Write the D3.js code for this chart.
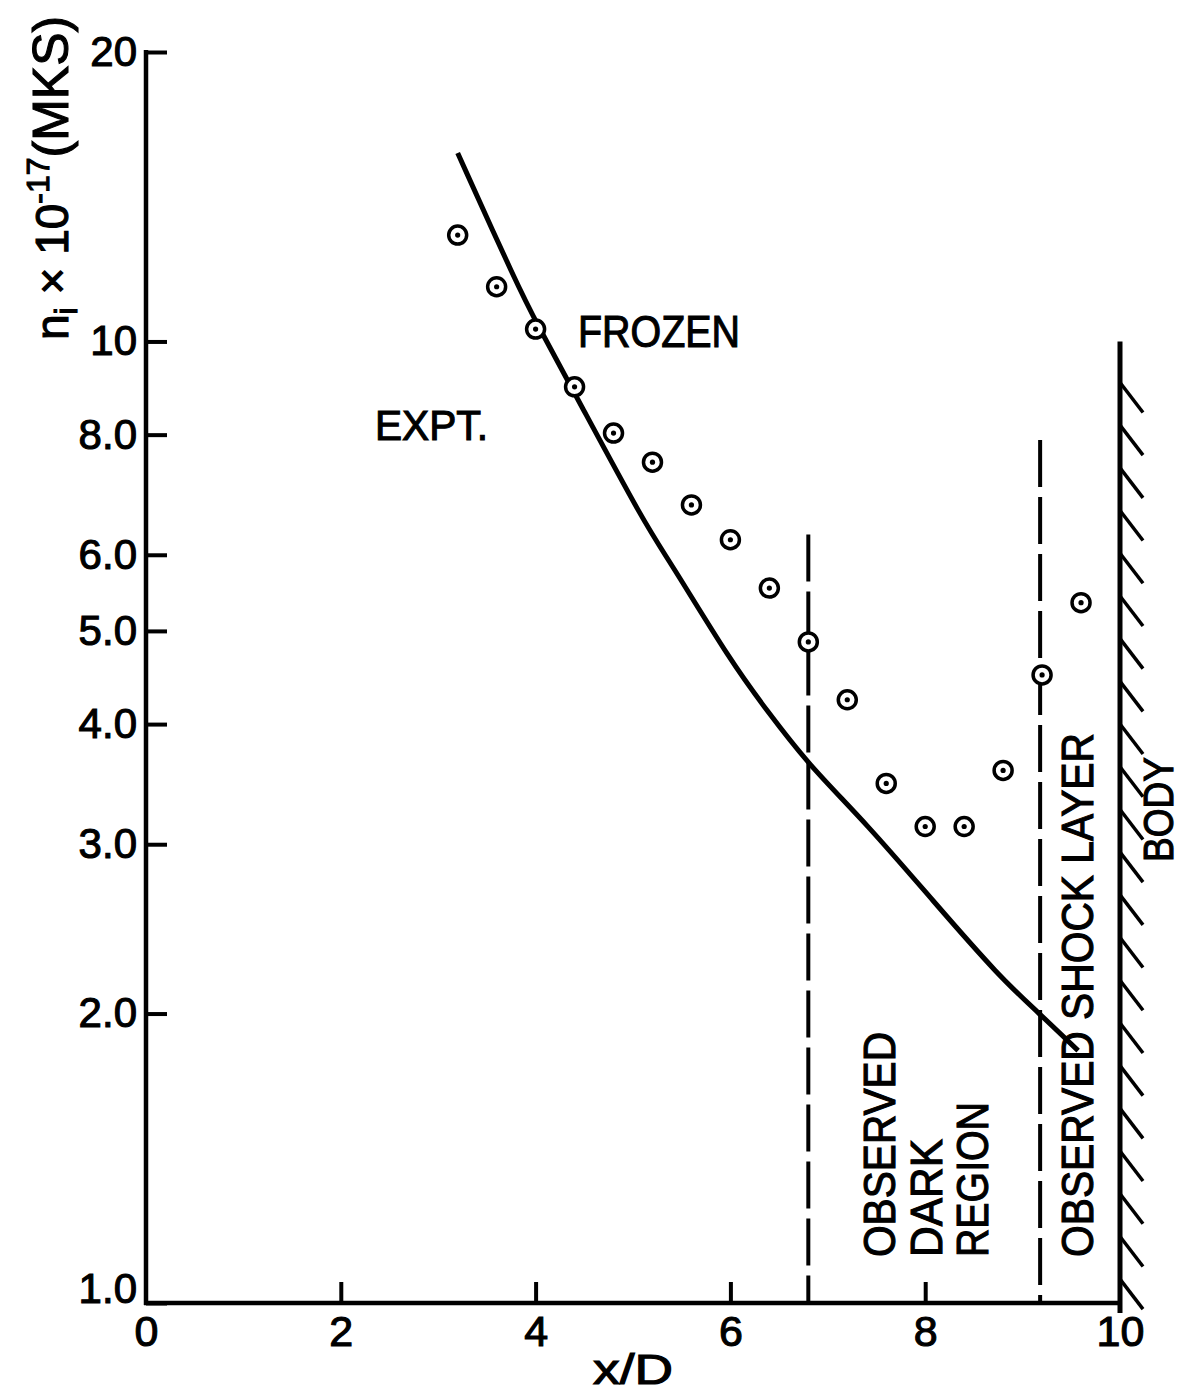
<!DOCTYPE html>
<html>
<head>
<meta charset="utf-8">
<script src="https://cdn.jsdelivr.net/npm/d3@7"></script>
<style>
  body { margin: 0; background: #fff; }
  text { font-family: "Liberation Sans", Arial, sans-serif; fill: #000; stroke: #000; stroke-width: 1.1px; }
</style>
</head>
<body>
<div id="chart"></div>
<script>
var w = 1183;
var h = 1394;

// data
var xTicks = [0, 2, 4, 6, 8, 10];
var xTickLabels = ["0", "2", "4", "6", "8", "10"];
var yTicks = [1, 2, 3, 4, 5, 6, 8, 10, 20];
var yTickLabels = ["1.0", "2.0", "3.0", "4.0", "5.0", "6.0", "8.0", "10", "20"];

var exptX = [3.2, 3.6, 4.0, 4.4, 4.8, 5.2, 5.6, 6.0, 6.4, 6.8, 7.2, 7.6, 8.0, 8.4, 8.8, 9.2, 9.6];
var exptN = [12.9, 11.4, 10.3, 8.97, 8.03, 7.49, 6.76, 6.22, 5.54, 4.87, 4.24, 3.47, 3.13, 3.13, 3.58, 4.50, 5.35];

var frozenX = [3.2, 3.82, 4.01, 4.42, 5.14, 5.35, 6.02, 6.37, 6.79, 7.40, 8.08, 8.77, 9.15, 9.57];
var frozenN = [15.7, 11.4, 10.45, 8.76, 6.41, 5.97, 4.62, 4.14, 3.64, 3.15, 2.62, 2.18, 2.01, 1.83];

// observed dark region / shock layer boundaries and body wall
var boundX = [6.8, 9.18];
var boundTop = [6.3, 7.9];
var bodyX = 10;
var bodyTop = 10;

var svg = d3.select("#chart").append("svg").attr("width", w).attr("height", h);

var x = d3.scaleLinear().domain([0, 10]).range([146, 1120]);
var y = d3.scaleLog().domain([1, 20]).range([1303, 52]);

function disptext(tex, px, py, size, len) {
  var t = svg.append("text")
    .text(tex)
    .attr("x", px)
    .attr("y", py)
    .attr("font-size", size);
  if (len) t.attr("textLength", len).attr("lengthAdjust", "spacingAndGlyphs");
  return t;
}

function vtext(tex, px, py, size, len) {
  var t = disptext(tex, 0, 0, size, len);
  t.attr("transform", "translate(" + px + "," + py + ") rotate(-90)");
  return t;
}

// axes
var xAxis = d3.axisBottom(x).tickValues(xTicks)
  .tickFormat(function(d, i) { return xTickLabels[i]; })
  .tickSizeInner(-21).tickSizeOuter(0).tickPadding(12);
var gx = svg.append("g").attr("transform", "translate(0," + y(1) + ")").call(xAxis);

var yAxis = d3.axisLeft(y).tickValues(yTicks)
  .tickFormat(function(d, i) { return yTickLabels[i]; })
  .tickSizeInner(-21).tickSizeOuter(0).tickPadding(9);
var gy = svg.append("g").attr("transform", "translate(" + x(0) + ",0)").call(yAxis);

[gx, gy].forEach(function(g) {
  g.select(".domain").remove();
  g.selectAll(".tick line").attr("stroke", "#000").attr("stroke-width", 4);
  g.selectAll(".tick text").attr("font-size", 43).attr("font-family", "Liberation Sans").attr("fill", "#000");
});
gx.selectAll(".tick").filter(function(d) { return d == 0 || d == 10; }).select("line").remove();
gy.selectAll(".tick text").attr("font-size", 42);
gy.selectAll(".tick").filter(function(d) { return d == 1; }).select("text").attr("dy", "-0.02em");

svg.append("line").attr("x1", x(0)).attr("x2", x(0)).attr("y1", y(20) - 2).attr("y2", y(1) + 2)
  .attr("stroke", "#000").attr("stroke-width", 4.5);
svg.append("line").attr("x1", x(0) - 2).attr("x2", x(10)).attr("y1", y(1)).attr("y2", y(1))
  .attr("stroke", "#000").attr("stroke-width", 4.5);

// body wall with hatching
svg.append("line").attr("x1", x(bodyX)).attr("x2", x(bodyX)).attr("y1", y(bodyTop)).attr("y2", y(1) + 10)
  .attr("stroke", "#000").attr("stroke-width", 5);
var hatch = d3.range(22).map(function(i) { return y(bodyTop) + 41 + i * 42.7; });
svg.selectAll(".hatch").data(hatch).enter().append("line")
  .attr("x1", x(bodyX)).attr("y1", function(d) { return d; })
  .attr("x2", x(bodyX) + 23).attr("y2", function(d) { return d + 30; })
  .attr("stroke", "#000").attr("stroke-width", 3.5);

// dashed boundaries
svg.selectAll(".bound").data(boundX).enter().append("line")
  .attr("x1", function(d) { return x(d); }).attr("x2", function(d) { return x(d); })
  .attr("y1", function(d, i) { return y(boundTop[i]); }).attr("y2", y(1))
  .attr("stroke", "#000").attr("stroke-width", 4)
  .attr("stroke-dasharray", "47,10");

// frozen curve
var line = d3.line()
  .x(function(d, i) { return x(frozenX[i]); })
  .y(function(d) { return y(d); })
  .curve(d3.curveBasis);
svg.append("path").datum(frozenN).attr("d", line)
  .attr("fill", "none").attr("stroke", "#000").attr("stroke-width", 5);

// experimental points
var pts = svg.selectAll(".pt").data(exptN).enter().append("g")
  .attr("transform", function(d, i) { return "translate(" + x(exptX[i]) + "," + y(d) + ")"; });
pts.append("circle").attr("r", 9).attr("fill", "#fff").attr("stroke", "#000").attr("stroke-width", 3.5);
pts.append("circle").attr("r", 2.6).attr("fill", "#000");

// labels
disptext("FROZEN", 578, 347, 44, 162);
disptext("EXPT.", 375, 440, 42, 113);
disptext("x/D", 633, 1384, 42, 80).attr("text-anchor", "middle");

vtext("OBSERVED", 895, 1257, 44, 225);
vtext("DARK", 942, 1257, 44, 118);
vtext("REGION", 988, 1257, 44, 155);
vtext("OBSERVED SHOCK LAYER", 1093, 1257, 44, 524);
vtext("BODY", 1173, 862, 42, 105);

// y axis title
var yt = svg.append("text").attr("transform", "translate(68,340) rotate(-90)").attr("font-size", 46);
yt.append("tspan").text("n");
yt.append("tspan").text("i").attr("font-size", 32).attr("dy", 9);
yt.append("tspan").text(" \u00d7 10").attr("dy", -9);
yt.append("tspan").text("-17").attr("font-size", 32).attr("dy", -19);
yt.append("tspan").text("(MKS)").attr("font-size", 50).attr("dy", 19);
</script>
</body>
</html>
